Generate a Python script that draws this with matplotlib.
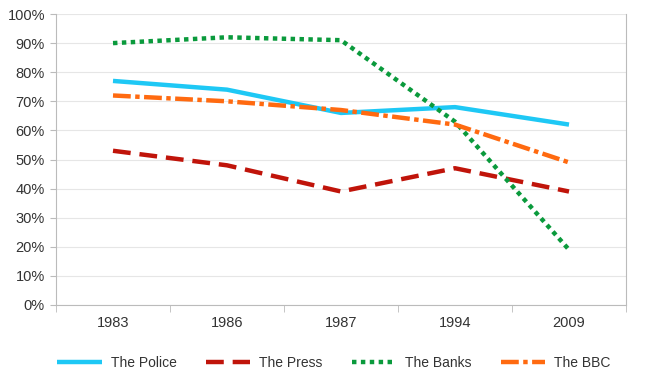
import matplotlib
matplotlib.use("Agg")
import matplotlib.pyplot as plt
import matplotlib.ticker as mticker

plt.rcParams["font.family"] = ["Liberation Sans", "DejaVu Sans"]

years = ["1983", "1986", "1987", "1994", "2009"]
police = [77, 74, 66, 68, 62]
press = [53, 48, 39, 47, 39]
banks = [90, 92, 91, 63, 19]
bbc = [72, 70, 67, 62, 49]

series = [
    ("The Police", police, "#1EC8F5", "-"),
    ("The Press", press, "#C0140A", (0, (4, 2))),
    ("The Banks", banks, "#0A9A3C", (0, (1, 1))),
    ("The BBC", bbc, "#FF6A10", (0, (4, 1, 1, 1))),
]

fig = plt.figure(figsize=(6.5, 3.85), dpi=100)
ax = fig.add_axes([56 / 650, 1 - 305 / 385, 570 / 650, 291 / 385])

x = list(range(len(years)))
for label, vals, color, ls in series:
    ax.plot(x, vals, color=color, linestyle=ls, linewidth=3.2, label=label,
            solid_capstyle="butt", dash_capstyle="butt")

ax.set_xlim(-0.5, len(years) - 0.5)
ax.set_ylim(0, 100)
ax.yaxis.set_major_locator(mticker.MultipleLocator(10))
ax.yaxis.set_major_formatter(mticker.FuncFormatter(lambda v, _: f"{v:.0f}%"))
ax.set_xticks(x)
ax.set_xticklabels(years)
ax.set_xticks([i - 0.5 for i in range(len(years) + 1)], minor=True)

ax.grid(axis="y", color="#E6E6E6", linewidth=0.8)
ax.set_axisbelow(True)
for side in ["left", "bottom", "right"]:
    ax.spines[side].set_color("#BBBBBB")
ax.spines["top"].set_visible(False)
ax.tick_params(axis="x", which="major", length=0, pad=8, labelsize=10.5, colors="#333333")
ax.tick_params(axis="x", which="minor", length=5, color="#BBBBBB")
ax.tick_params(axis="y", length=4, color="#BBBBBB", labelsize=10.5, colors="#333333", pad=4)

leg = fig.legend(loc="center", bbox_to_anchor=(334 / 650, 1 - 363 / 385), ncol=4, frameon=False,
                 fontsize=10, handlelength=3.2, columnspacing=2.1, handletextpad=0.65)
for t in leg.get_texts():
    t.set_color("#333333")

fig.savefig("out.png", dpi=100)
